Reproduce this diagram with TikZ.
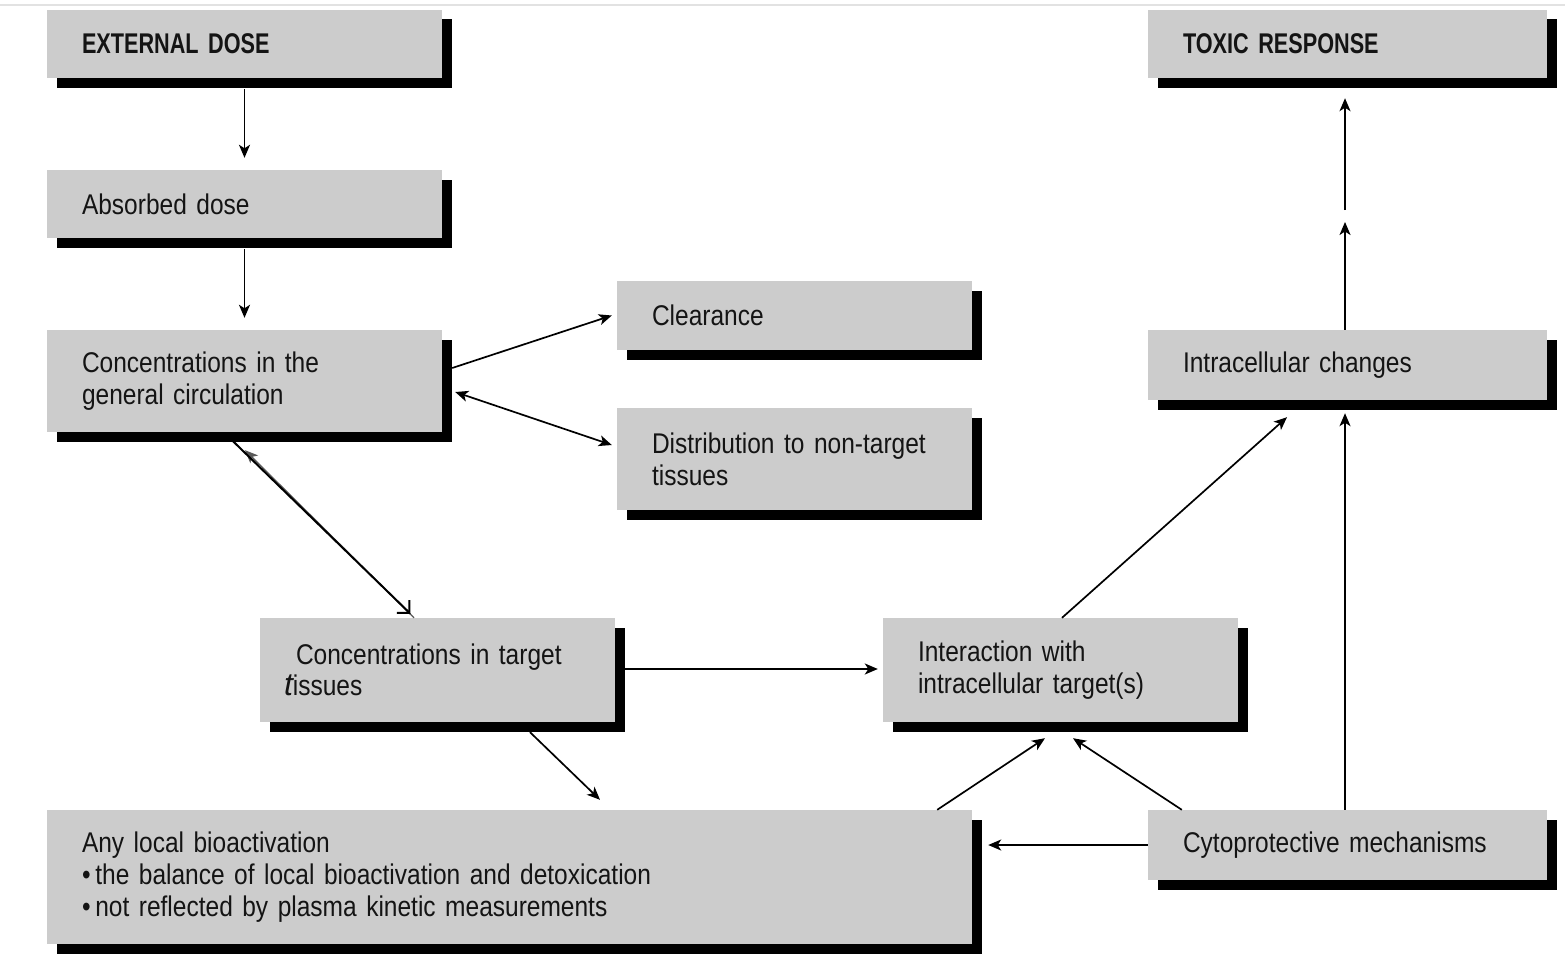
\documentclass[tikz,border=0pt]{standalone}
\usepackage{fontspec}
\setmainfont{Liberation Sans}[FakeStretch=0.86, WordSpace=0.8, BoldFeatures={FakeStretch=0.76}]
\newfontfamily\tfont{Liberation Sans}
\usetikzlibrary{arrows.meta,shadows,calc}
\definecolor{boxgrey}{HTML}{CCCCCC}
\definecolor{txt}{HTML}{141414}
\definecolor{topline}{HTML}{E2E2E2}
\begin{document}
\begin{tikzpicture}[x=1pt,y=-1pt,
  box/.style={fill=boxgrey, draw=none, align=left, inner xsep=35pt, inner ysep=0pt,
    text=txt, font=\fontsize{28.5}{32}\selectfont,
    drop shadow={shadow xshift=9.5pt, shadow yshift=-9.5pt, fill=black, opacity=1}},
  bw/.style={text width=#1-70pt, minimum width=#1},
  arr/.style={line width=1.7pt, -{Stealth[length=13pt,width=11pt,inset=3.5pt]}},
  darr/.style={line width=1.7pt, {Stealth[length=13pt,width=11pt,inset=3.5pt]}-{Stealth[length=13pt,width=11pt,inset=3.5pt]}},
]
\useasboundingbox (0,0) rectangle (1565,958);
\fill[white] (0,0) rectangle (1565,958);
\coordinate (tl) at (0,5);
\coordinate (tr) at (1565,5);
\draw[topline, line width=2pt] (tl) -- (tr);

\node[box, bw=395pt, minimum height=68pt, font=\fontsize{28.5}{32}\selectfont\bfseries] (ext) at (244.5,44) {EXTERNAL DOSE};
\node[box, bw=395pt, minimum height=68pt] (abs) at (244.5,204) {Absorbed dose};
\node[box, bw=395pt, minimum height=102pt] (gen) at (244.5,381) {Concentrations in the\\general circulation};
\node[box, bw=355pt, minimum height=69pt] (clr) at (794.5,315.5) {Clearance};
\node[box, bw=355pt, minimum height=102pt] (dist) at (794.5,459) {Distribution to non-target\\tissues};
\node[box, bw=355pt, minimum height=104pt] (tgt) at (437.5,670) {\hspace*{1pt}Concentrations in target\\[-1pt]\hspace*{-11pt}{\tfont\fontsize{32}{32}\selectfont\itshape t}issues};
\node[box, bw=355pt, minimum height=104pt] (inter) at (1060.5,670) {Interaction with\\intracellular target(s)};
\node[box, bw=399pt, minimum height=70pt] (intra) at (1347.5,365) {Intracellular changes};
\node[box, bw=399pt, minimum height=68pt, font=\fontsize{28.5}{32}\selectfont\bfseries] (tox) at (1347.5,44) {TOXIC RESPONSE};
\node[box, bw=399pt, minimum height=70pt] (cyto) at (1347.5,845) {Cytoprotective mechanisms};
\node[box, bw=925pt, minimum height=134pt] (bio) at (509.5,877) {Any local bioactivation\\\textbullet\,the balance of local bioactivation and detoxication\\\textbullet\,not reflected by plasma kinetic measurements};

\coordinate (mid) at (1345,216);

\draw[arr] ([yshift=-11pt]ext.south) -- ([yshift=12pt]abs.north);
\draw[arr] ([yshift=-11pt]abs.south) -- ([yshift=12pt]gen.north);
\draw[arr] ([xshift=10pt,yshift=13pt]gen.east) -- ([xshift=-5pt]clr.west);
\draw[darr] ([xshift=13pt,yshift=-11pt]gen.east) -- ([xshift=-5pt,yshift=14pt]dist.west);
\draw[line width=1.3pt, gray!70!black, {Stealth[length=13pt,width=11pt,inset=3.5pt]}-] ([xshift=0.5pt,yshift=-18pt]gen.south) -- ([xshift=-23.5pt]tgt.north);
\draw[line width=2pt, -{Straight Barb[length=9pt,width=18pt]}] ([xshift=-11.5pt,yshift=-9pt]gen.south) -- ([xshift=-27pt,yshift=4pt]tgt.north);
\draw[arr] ([xshift=10pt,yshift=1pt]tgt.east) -- ([xshift=-5pt,yshift=1pt]inter.west);
\draw[arr] ([xshift=92.5pt,yshift=-10pt]tgt.south) -- ([xshift=90.5pt,yshift=10pt]bio.north);
\draw[arr] ([xshift=-35pt]bio.north east) -- ([xshift=-15.5pt,yshift=-16pt]inter.south);
\draw[arr] ([xshift=34pt]cyto.north west) -- ([xshift=12.5pt,yshift=-16pt]inter.south);
\draw[arr] (cyto.west) -- ([xshift=16pt]bio.east |- cyto.west);
\draw[arr] ([xshift=-2.5pt]cyto.north) -- ([xshift=-2.5pt,yshift=-13pt]intra.south);
\draw[arr] ([xshift=1.5pt]inter.north) -- ([xshift=-60.5pt,yshift=-17pt]intra.south);
\draw[arr] ([xshift=-2.5pt]intra.north) -- ([yshift=-6pt]mid);
\draw[arr] ([yshift=6pt]mid) -- ([xshift=-2.5pt,yshift=-20pt]tox.south);
\end{tikzpicture}
\end{document}
